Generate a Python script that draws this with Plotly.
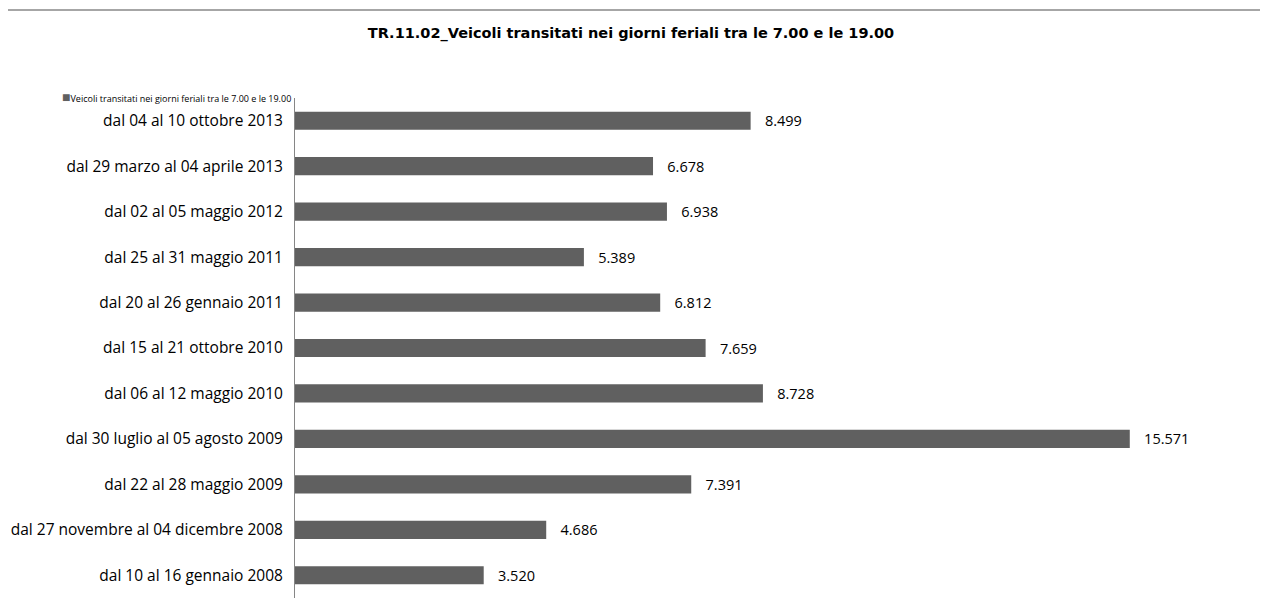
import plotly.graph_objects as go

# Categories listed bottom to top (chronological)
periods = [
    'dal 10 al 16 gennaio 2008',
    'dal 27 novembre al 04 dicembre 2008',
    'dal 22 al 28 maggio 2009',
    'dal 30 luglio al 05 agosto 2009',
    'dal 06 al 12 maggio 2010',
    'dal 15 al 21 ottobre 2010',
    'dal 20 al 26 gennaio 2011',
    'dal 25 al 31 maggio 2011',
    'dal 02 al 05 maggio 2012',
    'dal 29 marzo al 04 aprile 2013',
    'dal 04 al 10 ottobre 2013',
]
vehicles = [3520, 4686, 7391, 15571, 8728, 7659, 6812, 5389, 6938, 6678, 8499]

series_name = 'Veicoli transitati nei giorni feriali tra le 7.00 e le 19.00'
title_text = 'TR.11.02_Veicoli transitati nei giorni feriali tra le 7.00 e le 19.00'

bar_color = '#606060'
label_font = 'Open Sans, Lato, sans-serif'

fig = go.Figure()

fig.add_trace(go.Bar(
    x=vehicles,
    y=periods,
    orientation='h',
    name=series_name,
    marker=dict(color=bar_color, line=dict(width=0)),
    width=0.4,
    texttemplate='\u00a0\u00a0\u00a0%{x:,}',
    textposition='outside',
    constraintext='none',
    textfont=dict(family=label_font, size=14.5, color='#000000'),
    cliponaxis=False,
    showlegend=False,
))

# Outer chart border (grey frame)
fig.add_shape(
    type='rect', xref='paper', yref='paper',
    x0=-0.4, x1=1.1, y0=-0.2, y1=1.176,
    line=dict(color='#a6a6a6', width=2),
    layer='below',
)

# Legend entry (small square + series name)
fig.add_annotation(
    xref='paper', yref='paper',
    x=-0.2435, y=1.003, xanchor='left', yanchor='middle',
    text='<span style="color:' + bar_color + ';font-size:14px">■</span>' + series_name,
    showarrow=False,
    font=dict(family=label_font, size=9, color='#000000'),
)

fig.update_layout(
    width=1252,
    height=593,
    margin=dict(l=287, r=0, t=90, b=3),
    paper_bgcolor='white',
    plot_bgcolor='white',
    separators=',.',
    showlegend=False,
    title=dict(
        text='<b>' + title_text + '</b>',
        x=0.4976, xref='container', xanchor='center',
        y=0.958, yref='container', yanchor='middle',
        font=dict(family='DejaVu Sans, sans-serif', size=14.5, color='#000000'),
    ),
    font=dict(family=label_font, size=14, color='#000000'),
    xaxis=dict(
        range=[0, 18000],
        visible=False,
        showgrid=False,
        zeroline=False,
    ),
    yaxis=dict(
        categoryorder='array',
        categoryarray=periods,
        showgrid=False,
        showline=True,
        linecolor='#868686',
        linewidth=1,
        ticks='',
        ticklabelstandoff=8,
        tickfont=dict(family=label_font, size=15.5, color='#000000'),
    ),
    bargap=0.6,
)

fig.write_html("out.html")
